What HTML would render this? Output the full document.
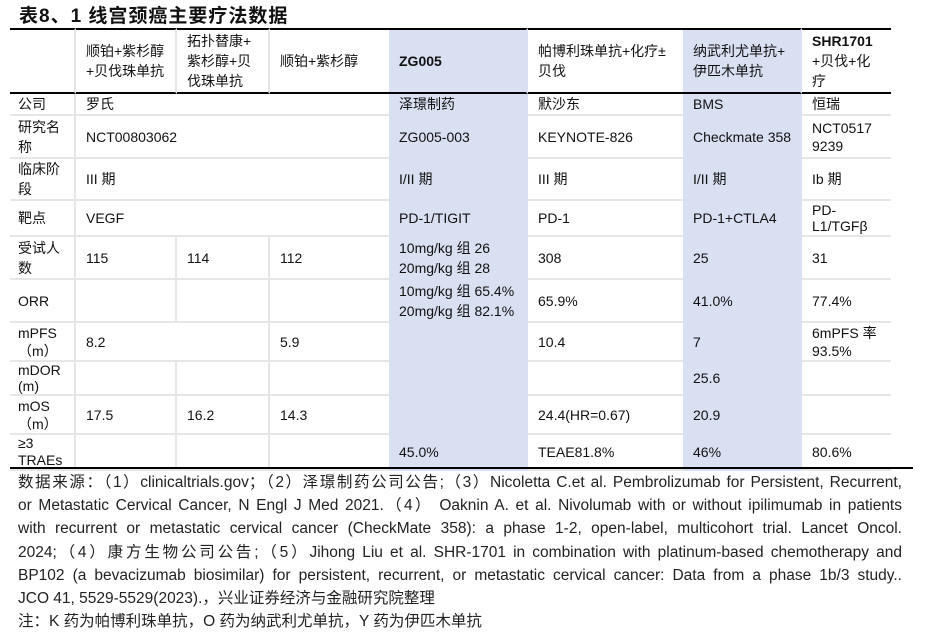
<!DOCTYPE html>
<html><head><meta charset="utf-8"><style>
body{margin:0;width:930px;height:638px;background:#fff;font-family:"Liberation Sans","Noto Sans CJK SC",sans-serif;color:#111;position:relative;overflow:hidden}
#title{position:absolute;left:19px;top:1px;font-size:19px;font-weight:bold;letter-spacing:1px}
table{position:absolute;left:10px;top:28px;border-collapse:separate;border-spacing:0;table-layout:fixed;width:881px;font-size:14px}
td{padding:0 0 0 10px;border-right:2px solid #e6e6e6;border-bottom:2px solid #e6e6e6;line-height:18px;vertical-align:middle;overflow:hidden}
td:first-child{padding-left:8px}
td.b{background:#d9e0f2;border-color:#d9e0f2}
td.nr{border-right:none}
tr.h td{border-top:2px solid #000;border-bottom:2px solid #000;line-height:20px}
tr.h td.b{border-top:2px solid #000;border-bottom:2px solid #000}
td:last-child{border-right:none}
#bline{position:absolute;left:10px;top:467px;width:903px;height:2px;background:#000}
#notes{position:absolute;left:18px;top:471px;width:884px;font-size:15.5px;line-height:23.2px;color:#222}
#notes div{text-align:justify;text-align-last:justify;white-space:nowrap}
#notes div.l{text-align-last:left}
</style></head><body>
<div id="title">表8、1 线宫颈癌主要疗法数据</div>
<table>
<colgroup><col style="width:66px"><col style="width:101px"><col style="width:93px"><col style="width:119px"><col style="width:139px"><col style="width:155px"><col style="width:119px"><col style="width:89px"></colgroup>
<tr class="h" style="height:66px"><td></td><td>顺铂+紫杉醇<br>+贝伐珠单抗</td><td>拓扑替康+<br>紫杉醇+贝<br>伐珠单抗</td><td class="nr">顺铂+紫杉醇</td><td class="b"><b>ZG005</b></td><td class="nr">帕博利珠单抗+化疗±<br>贝伐</td><td class="b">纳武利尤单抗+<br>伊匹木单抗</td><td><b>SHR1701</b><br>+贝伐+化<br>疗</td></tr>
<tr style="height:22px"><td>公司</td><td colspan="3" class="nr">罗氏</td><td class="b">泽璟制药</td><td class="nr">默沙东</td><td class="b">BMS</td><td>恒瑞</td></tr>
<tr style="height:43px"><td style="line-height:20px">研究名<br>称</td><td colspan="3" class="nr">NCT00803062</td><td class="b">ZG005-003</td><td class="nr">KEYNOTE-826</td><td class="b">Checkmate 358</td><td>NCT0517<br>9239</td></tr>
<tr style="height:42px"><td style="line-height:20px">临床阶<br>段</td><td colspan="3" class="nr">III 期</td><td class="b">I/II 期</td><td class="nr">III 期</td><td class="b">I/II 期</td><td>Ib 期</td></tr>
<tr style="height:36px"><td>靶点</td><td colspan="3" class="nr">VEGF</td><td class="b">PD-1/TIGIT</td><td class="nr">PD-1</td><td class="b">PD-1+CTLA4</td><td style="line-height:16px">PD-<br>L1/TGFβ</td></tr>
<tr style="height:43px"><td style="line-height:20px">受试人<br>数</td><td>115</td><td>114</td><td class="nr">112</td><td class="b" style="line-height:20px">10mg/kg 组 26<br>20mg/kg 组 28</td><td class="nr">308</td><td class="b">25</td><td>31</td></tr>
<tr style="height:43px"><td>ORR</td><td></td><td></td><td class="nr"></td><td class="b" style="line-height:20px">10mg/kg 组 65.4%<br>20mg/kg 组 82.1%</td><td class="nr">65.9%</td><td class="b">41.0%</td><td>77.4%</td></tr>
<tr style="height:39px"><td>mPFS<br>（m）</td><td colspan="2">8.2</td><td class="nr">5.9</td><td class="b"></td><td class="nr">10.4</td><td class="b">7</td><td style="line-height:18px">6mPFS 率<br>93.5%</td></tr>
<tr style="height:33px"><td style="line-height:16px">mDOR<br>(m)</td><td></td><td></td><td class="nr"></td><td class="b"></td><td class="nr"></td><td class="b">25.6</td><td></td></tr>
<tr style="height:39px"><td>mOS<br>（m）</td><td>17.5</td><td>16.2</td><td class="nr">14.3</td><td class="b"></td><td class="nr">24.4(HR=0.67)</td><td class="b">20.9</td><td></td></tr>
<tr style="height:35px"><td style="line-height:17px">≥3<br>TRAEs</td><td></td><td></td><td class="nr"></td><td class="b">45.0%</td><td class="nr">TEAE81.8%</td><td class="b">46%</td><td>80.6%</td></tr>
</table>
<div id="bline"></div>
<div id="notes">
<div>数据来源：（1）clinicaltrials.gov；（2）泽璟制药公司公告;（3）Nicoletta C.et al. Pembrolizumab for Persistent, Recurrent,</div>
<div>or Metastatic Cervical Cancer, N Engl J Med 2021.（4） Oaknin A. et al. Nivolumab with or without ipilimumab in patients</div>
<div>with recurrent or metastatic cervical cancer (CheckMate 358): a phase 1-2, open-label, multicohort trial. Lancet Oncol.</div>
<div>2024;（4）康方生物公司公告;（5）Jihong Liu et al. SHR-1701 in combination with platinum-based chemotherapy and</div>
<div>BP102 (a bevacizumab biosimilar) for persistent, recurrent, or metastatic cervical cancer: Data from a phase 1b/3 study..</div>
<div class="l">JCO 41, 5529-5529(2023).，兴业证券经济与金融研究院整理</div>
<div class="l">注：K 药为帕博利珠单抗，O 药为纳武利尤单抗，Y 药为伊匹木单抗</div>
</div>
</body></html>
